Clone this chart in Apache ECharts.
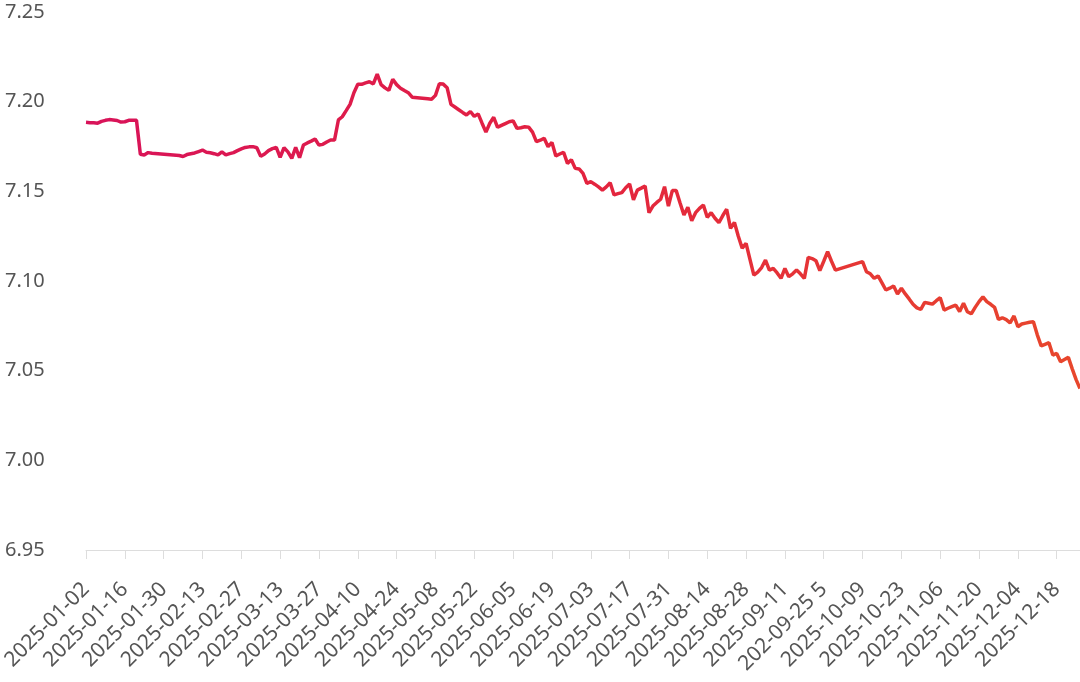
<!DOCTYPE html>
<html>
<head>
<meta charset="utf-8">
<style>
  html, body { margin: 0; padding: 0; background: #ffffff; }
  #chart { width: 1080px; height: 682px; }
</style>
<script src="https://cdn.jsdelivr.net/npm/echarts@6/dist/echarts.min.js"></script>
</head>
<body>
<div id="chart"></div>
<script>
// Categories: every weekday from 2025-01-02 to 2025-12-26
const startDate = '2025-01-02';
const endDate = '2025-12-26';
const categories = [];
(function () {
  const d = new Date(startDate + 'T00:00:00Z');
  const end = new Date(endDate + 'T00:00:00Z');
  while (d <= end) {
    const wd = d.getUTCDay();
    if (wd !== 0 && wd !== 6) categories.push(d.toISOString().slice(0, 10));
    d.setUTCDate(d.getUTCDate() + 1);
  }
})();

// Exchange rate values (null = market holiday)
const rateValues = [
  7.1885,7.1883,7.1882,7.1880,7.1890,7.1896,7.1900,7.1898,7.1895,7.1886,
  7.1888,7.1896,7.1897,7.1896,7.1707,7.1703,7.1716,7.1712,null,null,
  null,null,null,null,7.1700,7.1694,7.1705,7.1710,7.1714,7.1722,
  7.1730,7.1718,7.1715,7.1710,7.1703,7.1720,7.1703,7.1710,7.1716,7.1727,
  7.1737,7.1745,7.1748,7.1749,7.1743,7.1695,7.1708,7.1727,7.1738,7.1745,
  7.1690,7.1743,7.1720,7.1684,7.1745,7.1688,7.1758,7.1770,7.1780,7.1792,
  7.1758,7.1762,7.1775,7.1786,7.1786,7.1898,7.1916,7.1950,7.1985,7.2050,
  7.2097,7.2097,7.2105,7.2111,7.2099,7.2154,7.2095,7.2077,7.2063,7.2125,
  7.2095,7.2075,7.2062,7.2050,7.2025,null,null,null,7.2016,7.2013,
  7.2035,7.2100,7.2098,7.2078,7.1985,7.1970,7.1955,7.1940,7.1926,7.1945,
  7.1918,7.1932,7.1880,7.1830,7.1880,7.1913,7.1857,7.1868,7.1878,7.1888,
  7.1893,7.1851,7.1855,7.1860,7.1858,7.1830,7.1777,7.1785,7.1796,7.1749,
  7.1773,7.1697,7.1708,7.1718,7.1656,7.1676,7.1628,7.1625,7.1600,7.1545,
  7.1554,7.1540,7.1525,7.1507,7.1525,7.1548,7.1480,7.1487,7.1493,7.1520,
  7.1541,7.1452,7.1507,7.1518,7.1530,7.1381,7.1418,7.1438,7.1456,7.1526,
  7.1418,7.1504,7.1504,7.1435,7.1368,7.1411,7.1336,7.1381,7.1405,7.1424,
  7.1355,7.1381,7.1350,7.1325,7.1365,7.1400,7.1294,7.1327,7.1250,7.1183,
  7.1210,7.1121,7.1033,7.1050,7.1075,7.1117,7.1061,7.1070,7.1045,7.1015,
  7.1070,7.1024,7.1040,7.1061,7.1040,7.1015,7.1132,7.1125,7.1113,7.1058,
  7.1110,7.1163,7.1110,7.1061,null,null,null,null,null,null,
  7.1108,7.1052,7.1040,7.1015,7.1028,7.0990,7.0950,7.0960,7.0972,7.0928,
  7.0960,7.0928,7.0900,7.0870,7.0850,7.0842,7.0881,7.0876,7.0871,7.0890,
  7.0907,7.0838,7.0848,7.0857,7.0866,7.0830,7.0876,7.0829,7.0817,7.0853,
  7.0885,7.0912,7.0885,7.0870,7.0853,7.0786,7.0795,7.0785,7.0767,7.0805,
  7.0745,7.0760,7.0765,7.0770,7.0773,7.0700,7.0638,7.0647,7.0656,7.0587,
  7.0596,7.0550,7.0562,7.0574,7.0510,7.0450,7.0400
];

// Y-axis ticks
const yMin = 6.95;
const yMax = 7.25;
const yStep = 0.05;

// Label text overrides as shown in the original
const labelOverrides = { '2025-09-25': '202-09-25 5' };

const chart = echarts.init(document.getElementById('chart'), null, { renderer: 'canvas' });
const FONT = 'Noto Sans';
chart.setOption({
  animation: false,
  backgroundColor: '#ffffff',
  grid: { left: 86, right: 0, top: 12, bottom: 132, containLabel: false, outerBoundsMode: 'none' },
  xAxis: {
    type: 'category',
    data: categories,
    boundaryGap: false,
    axisLine: { show: true, lineStyle: { color: '#dddddd', width: 1 } },
    axisTick: { show: true, interval: 9, length: 9, lineStyle: { color: '#dddddd' } },
    axisLabel: {
      interval: 9,
      rotate: 45,
      margin: 36,
      color: '#555555',
      fontSize: 21,
      fontFamily: FONT,
      formatter: function (v) { return labelOverrides[v] || v; }
    },
    splitLine: { show: false }
  },
  yAxis: {
    type: 'value',
    min: yMin,
    max: yMax,
    interval: yStep,
    axisLine: { show: false },
    axisTick: { show: false },
    splitLine: { show: false },
    axisLabel: {
      align: 'left',
      margin: 81,
      color: '#555555',
      fontSize: 20,
      fontFamily: FONT,
      formatter: function (v) { return v.toFixed(2); }
    }
  },
  series: [{
    type: 'line',
    data: rateValues,
    connectNulls: true,
    showSymbol: false,
    symbol: 'none',
    smooth: false,
    lineStyle: {
      width: 3.5,
      color: {
        type: 'linear', x: 0, y: 0, x2: 1, y2: 0,
        colorStops: [
          { offset: 0, color: '#d8135a' },
          { offset: 0.5, color: '#e3233f' },
          { offset: 1, color: '#e8472c' }
        ]
      }
    }
  }]
});
</script>
</body>
</html>
